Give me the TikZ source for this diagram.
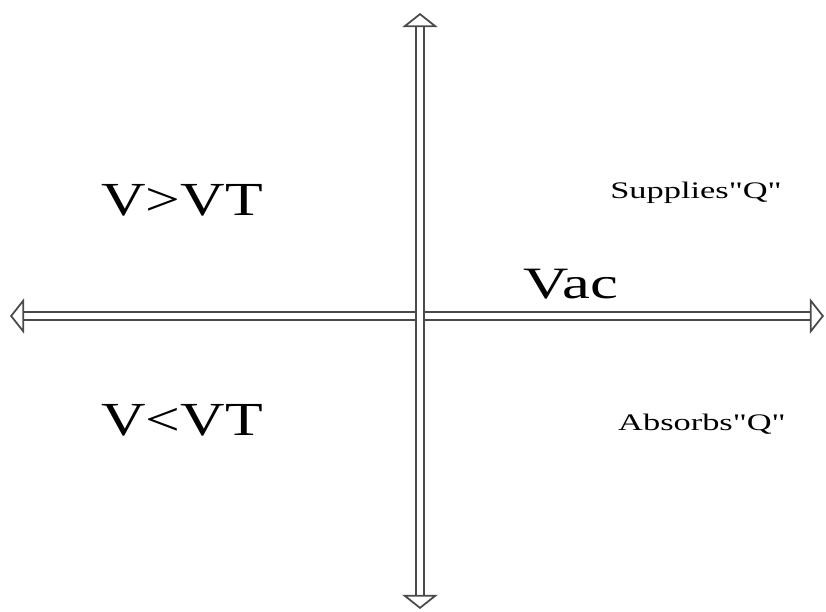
\documentclass[tikz,border=0pt]{standalone}
\usepackage{fontspec}
\setmainfont{Liberation Serif}
\usepackage{xcolor}
\usetikzlibrary{arrows.meta}
\definecolor{axisgray}{HTML}{4A4A4A}
\tikzset{
  axis/.style   = {draw=axisgray, line width=1pt, double=white, double distance=3.4pt,
                   {Triangle[width=20pt, length=8pt, fill=white]}-{Triangle[width=20pt, length=8pt, fill=white]}},
  bigtxt/.style = {anchor=base, inner sep=0pt, transform shape, xscale=1.3,
                   font=\fontsize{27}{30}\selectfont},
  vactxt/.style = {anchor=base, inner sep=0pt, transform shape, xscale=1.4,
                   font=\fontsize{25.5}{28}\selectfont},
  smalltxt/.style = {anchor=base, inner sep=0pt, transform shape, xscale=1.45,
                   font=\fontsize{13.5}{15}\selectfont},
}

\begin{document}
\begin{tikzpicture}[x=0.02cm, y=-0.02cm]
    \useasboundingbox (0,0) rectangle (826,612);

    %% axis end points
    \coordinate (left)   at (10, 316);
    \coordinate (right)  at (824, 316);
    \coordinate (top)    at (420, 13);
    \coordinate (bottom) at (420, 609);

    \draw[axis] (left) -- (right);
    \draw[axis] (bottom) -- (top);

    %% quadrant labels
    \node[bigtxt]   (gt)  at (182, 215) {V>VT};
    \node[bigtxt]   (lt)  at (182, 435) {V<VT};
    \node[vactxt]   (vac) at (571, 298) {Vac};
    \node[smalltxt] (sup) at (696, 198) {Supplies\textquotedbl Q\textquotedbl};
    \node[smalltxt] (abs) at (702, 430) {Absorbs\textquotedbl Q\textquotedbl};

\end{tikzpicture}
\end{document}
